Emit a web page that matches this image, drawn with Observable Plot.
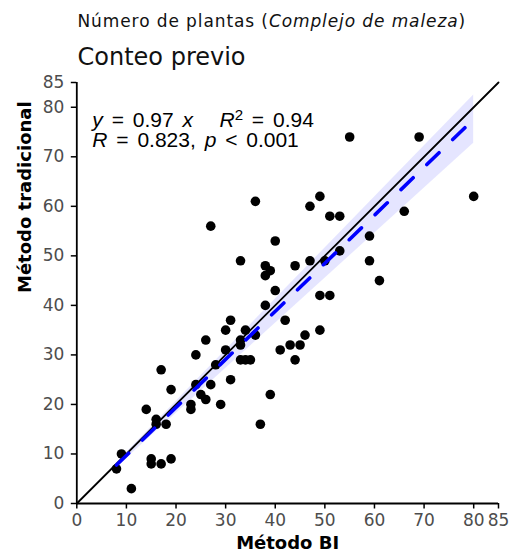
<!DOCTYPE html>
<html>
<head>
<meta charset="utf-8">
<script src="https://cdn.jsdelivr.net/npm/d3@7"></script>
<script src="https://cdn.jsdelivr.net/npm/@observablehq/plot@0.6"></script>
<style>
  body { margin: 0; background: #fff; }
  #chart svg { display: block; }
  g[aria-label="x-axis tick label"], g[aria-label="y-axis tick label"] { fill: #4d4d4d; }
</style>
</head>
<body>
<div id="chart"></div>
<script>
// ---- data ----
const metodoBI = [8,9,11,14,15,15,16,16,17,17,18,19,19,23,23,24,24,25,26,26,27,27,28,29,30,30,31,31,33,33,33,34,35,34,36,33,36,37,38,38,38,39,39,40,40,41,42,43,45,44,44,46,47,47,49,49,51,49,50,51,53,53,55,59,59,61,66,69,80];
const metodoTradicional = [7,10,3,19,9,8,17,16,8,27,16,9,23,20,19,24,30,22,21,33,24,56,28,20,35,31,25,37,33,32,29,29,29,35,34,49,61,16,40,46,48,47,22,43,53,31,37,32,32,29,48,34,49,60,62,42,42,35,49,58,58,51,74,54,49,45,59,74,62];
const xTicks = [0,10,20,30,40,50,60,70,80,85];
const yTicks = [0,10,20,30,40,50,60,70,80,85];
const axisDomain = [0,85];
const titleParts = [["Número de plantas (","normal"],["Complejo de maleza","italic"],[")","normal"]];
const subtitleText = "Conteo previo";
const xLabel = "Método BI";
const yLabel = "Método tradicional";
const fitSlope = 0.97;          // y = 0.97 x
const fitBandRel = 0.061;       // half-width of the confidence band per unit x
const eqLine1 = [["y","italic"],[" = 0.97 ","normal"],["x","italic"],["   ","normal"],["R","italic"],["2","sup"],[" = 0.94","normal"]];
const eqLine2 = [["R","italic"],[" = 0.823, ","normal"],["p","italic"],[" < 0.001","normal"]];

// ---- derived tables ----
const points = metodoBI.map((x,i) => ({x, y: metodoTradicional[i]}));
const xr = d3.extent(metodoBI);
const fit = xr.map(x => ({x, y: fitSlope*x, lo: (fitSlope - fitBandRel)*x, hi: (fitSlope + fitBandRel)*x}));
const identity = axisDomain.map(v => ({x: v, y: v}));
const joinParts = p => p.map(d => d[0]).join("");

const tickFont = "DejaVu Sans, sans-serif";

const svg = Plot.plot({
  width: 509,
  height: 552,
  marginLeft: 76.3,
  marginRight: 11,
  marginTop: 82,
  marginBottom: 49,
  x: {domain: axisDomain, label: null},
  y: {domain: axisDomain, label: null},
  style: {fontFamily: tickFont, background: "white", color: "black", overflow: "visible"},
  marks: [
    Plot.areaY(fit, {x: "x", y1: "lo", y2: "hi", fill: "#0000ff", fillOpacity: 0.1}),
    Plot.dot(points, {x: "x", y: "y", r: 4.8, fill: "black", stroke: null}),
    Plot.line(identity, {x: "x", y: "y", stroke: "black", strokeWidth: 1.8}),
    Plot.line(fit, {x: "x", y: "y", stroke: "#0000ff", strokeWidth: 3.6, strokeDasharray: "17,19"}),
    Plot.ruleX([axisDomain[0]], {y1: axisDomain[0], y2: axisDomain[1], stroke: "black", strokeWidth: 1.8}),
    Plot.ruleY([axisDomain[0]], {x1: axisDomain[0], x2: axisDomain[1], stroke: "black", strokeWidth: 1.8}),
    Plot.axisX(xTicks, {anchor: "bottom", tickSize: 5.5, tickPadding: 5, strokeWidth: 1.5, stroke: "black", fill: "#4d4d4d", fontSize: 17, label: null}),
    Plot.axisY(yTicks, {anchor: "left", tickSize: 5.5, tickPadding: 7, strokeWidth: 1.5, stroke: "black", fill: "#4d4d4d", fontSize: 17, label: null}),
    Plot.text([xLabel], {text: d => d, frameAnchor: "bottom", lineAnchor: "bottom", dy: 45, fontWeight: "bold", fontSize: 18, fill: "black"}),
    Plot.text([yLabel], {text: d => d, frameAnchor: "left", lineAnchor: "bottom", rotate: -90, dx: -45.5, fontWeight: "bold", fontSize: 18, fill: "black"}),
    Plot.text([joinParts(titleParts)], {text: d => d, frameAnchor: "top-left", textAnchor: "start", lineAnchor: "bottom", dx: 0.7, dy: -55.3, fontSize: 17, fill: "#111", ariaLabel: () => "title-main"}),
    Plot.text([subtitleText], {text: d => d, frameAnchor: "top-left", textAnchor: "start", lineAnchor: "bottom", dx: 0.7, dy: -18, fontSize: 24, fill: "#111"}),
    Plot.text([joinParts(eqLine1)], {text: d => d, frameAnchor: "top-left", textAnchor: "start", lineAnchor: "bottom", dx: 15.5, dy: 44.7, fontSize: 21, fontFamily: "Liberation Sans, Arial, sans-serif", fill: "black", ariaLabel: () => "eq1"}),
    Plot.text([joinParts(eqLine2)], {text: d => d, frameAnchor: "top-left", textAnchor: "start", lineAnchor: "bottom", dx: 15.5, dy: 64.7, fontSize: 21, fontFamily: "Liberation Sans, Arial, sans-serif", fill: "black", ariaLabel: () => "eq2"})
  ]
});

// rich text (italic / superscript pieces)
function richify(label, parts, extra) {
  const full = joinParts(parts);
  d3.select(svg).selectAll("text").filter(function() {
    return this.getAttribute("aria-label") === label || (this.textContent === full && !this.querySelector("tspan"));
  }).each(function() {
    const t = d3.select(this);
    t.text(null);
    if (extra) for (const k in extra) t.attr(k, extra[k]);
    let raised = false;
    for (const [s, style] of parts) {
      const ts = t.append("tspan").attr("xml:space", "preserve").style("white-space", "pre").text(s);
      if (style === "italic") ts.attr("font-style", "italic");
      if (style === "sup") { ts.attr("dy", "-0.45em").attr("font-size", "0.72em"); raised = true; }
      else if (raised) { ts.attr("dy", "0.324em"); raised = false; }
    }
  });
}
richify("title-main", titleParts, {"letter-spacing": "0.9px"});
richify("eq1", eqLine1, {"word-spacing": "3px"});
richify("eq2", eqLine2, {"word-spacing": "3px"});

document.getElementById("chart").appendChild(svg);
</script>
</body>
</html>
